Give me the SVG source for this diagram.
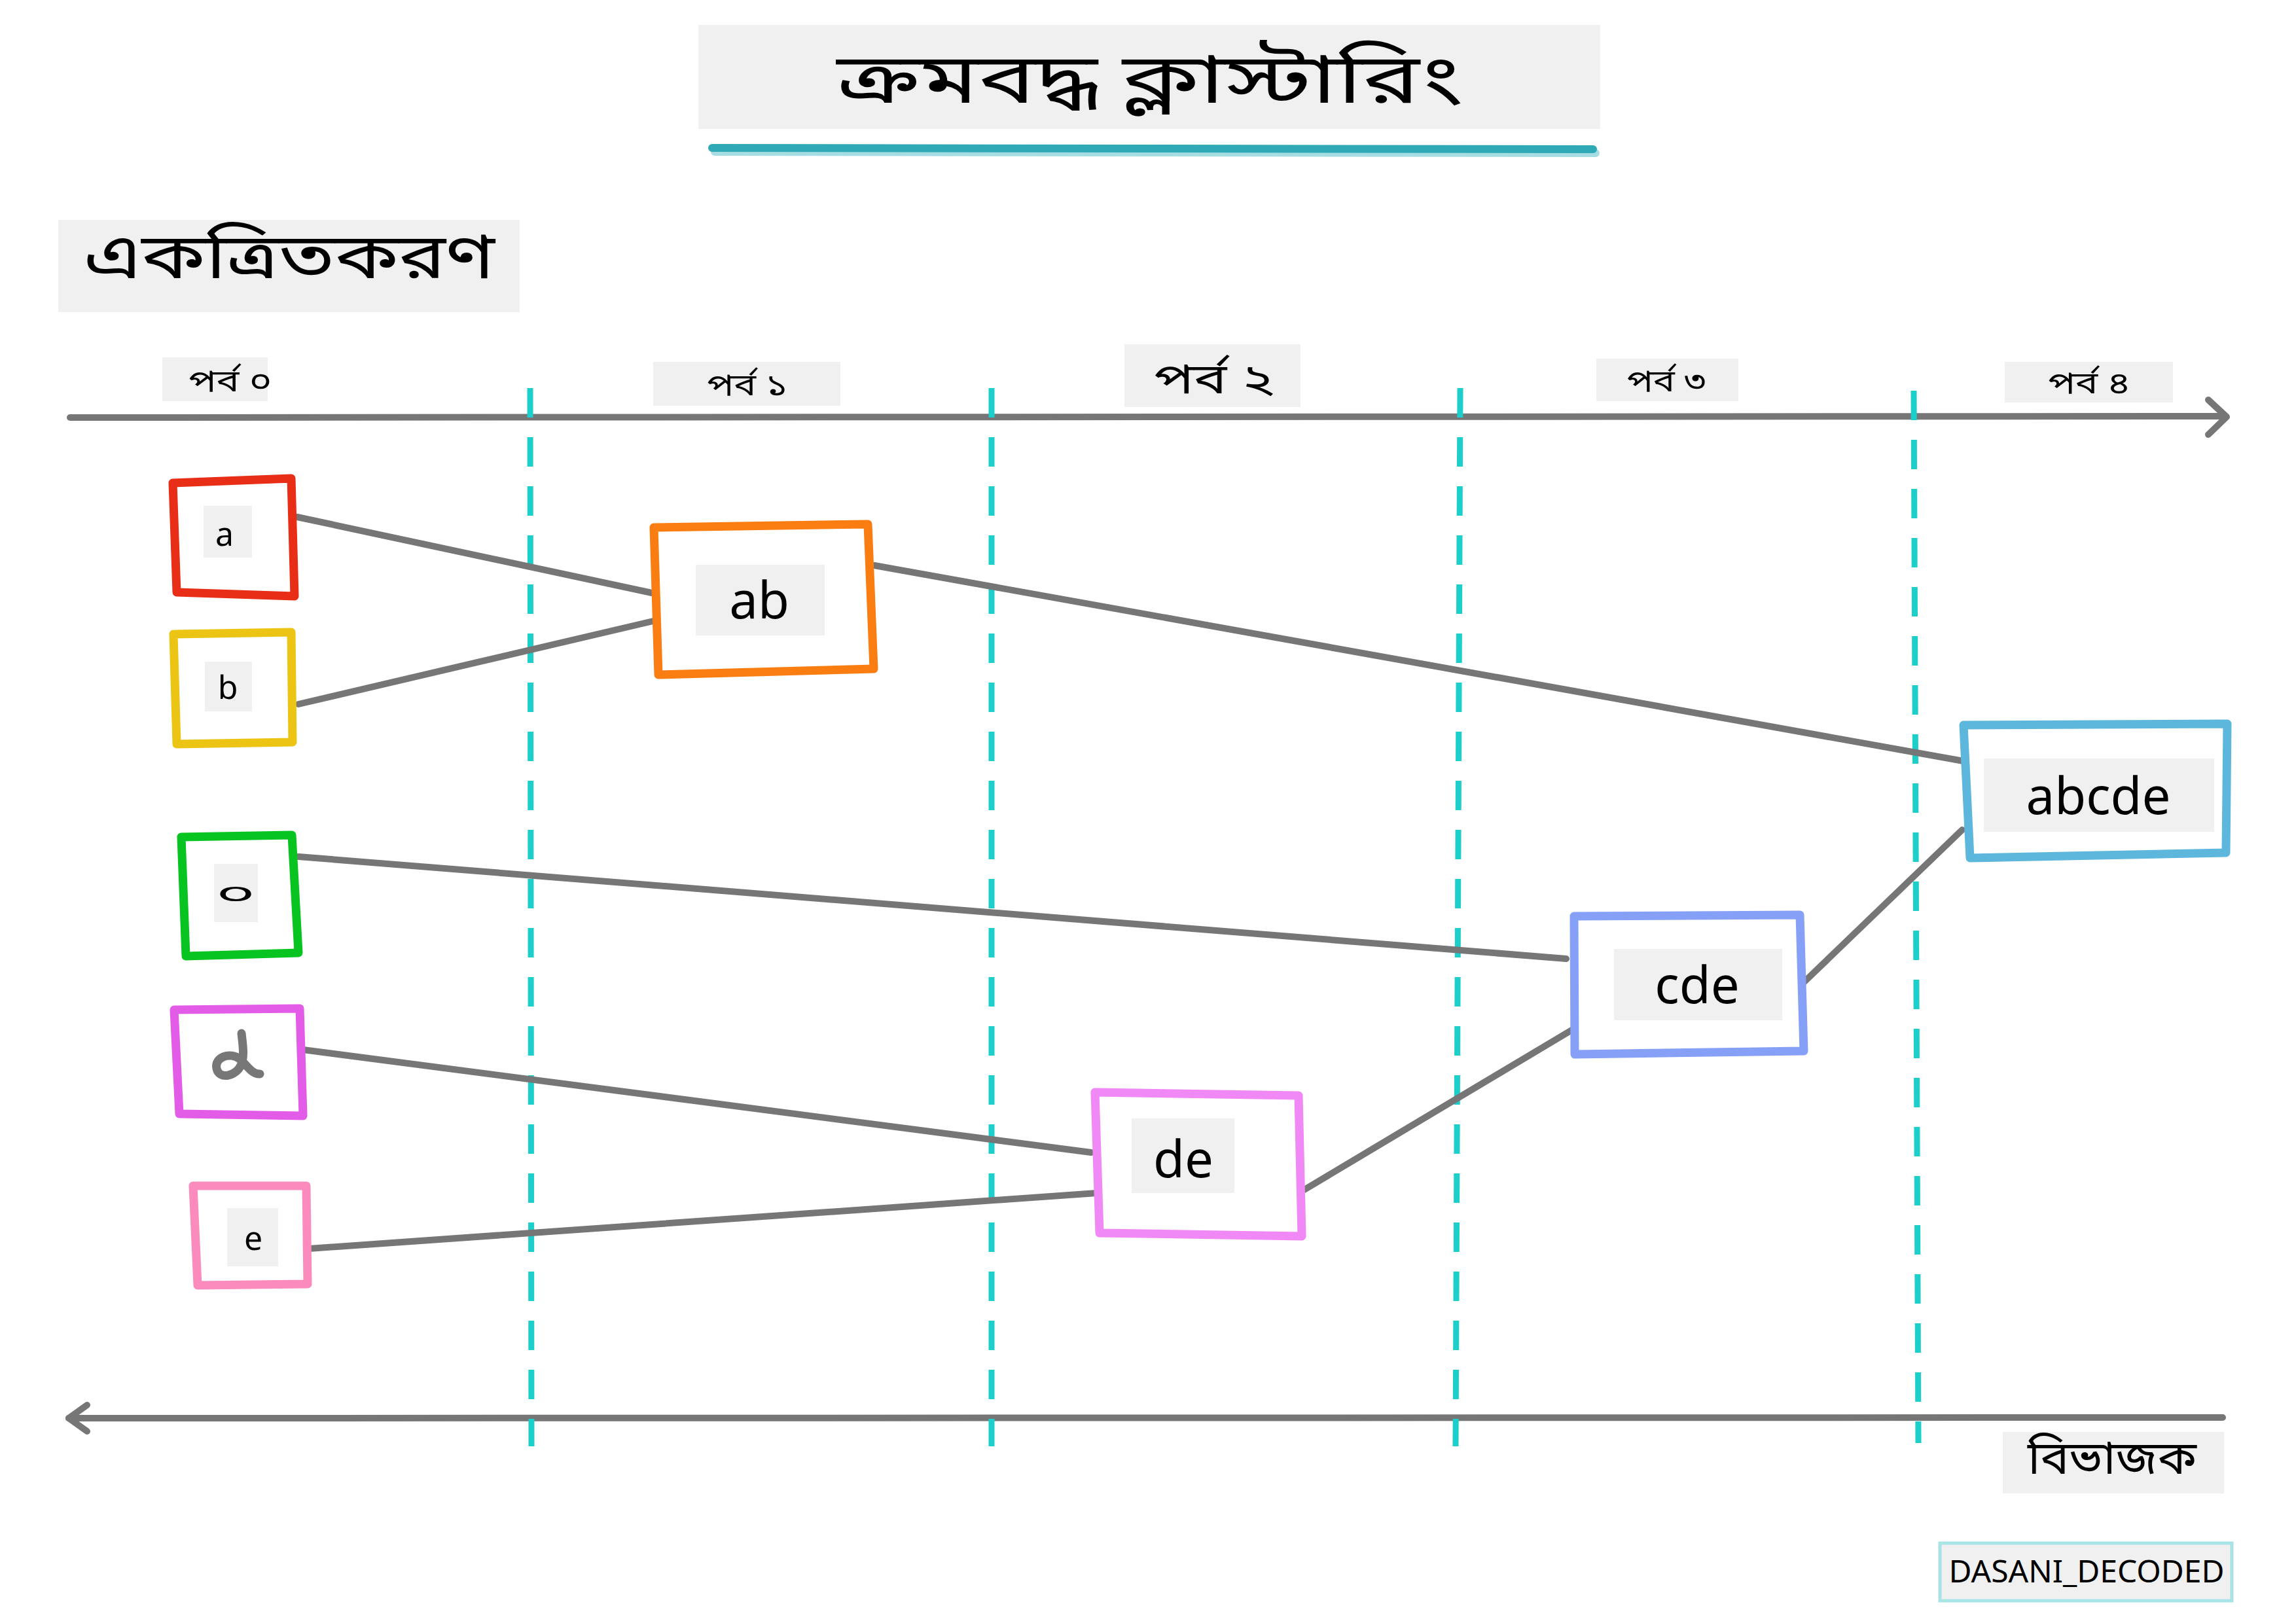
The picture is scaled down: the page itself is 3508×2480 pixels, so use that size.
<svg xmlns="http://www.w3.org/2000/svg" width="3508" height="2480" viewBox="0 0 3508 2480">
<defs>
<style>
.bg{fill:#f0f0f0;}
.bn{font-family:"Noto Sans Bengali","Noto Sans","Lohit Bengali",sans-serif;fill:#000;text-anchor:middle;}
.lt{font-family:"Noto Sans","Open Sans",sans-serif;fill:#000;text-anchor:middle;}
.box{fill:#fff;stroke-width:13;stroke-linejoin:round;stroke-linecap:round;}
.con{stroke:#767676;stroke-width:10;stroke-linecap:round;fill:none;}
.axis{stroke:#767676;stroke-width:10;stroke-linecap:round;stroke-linejoin:round;fill:none;}
.div{stroke:#1ccfca;stroke-width:9;stroke-dasharray:45 30;stroke-linecap:butt;fill:none;}
</style>
</defs>
<rect width="3508" height="2480" fill="#fff"/>

<g id="title">
<rect class="bg" x="1067" y="38" width="1378" height="159"/>
<text class="bn" x="1756" y="157" font-size="106" textLength="955" lengthAdjust="spacingAndGlyphs">ক্রমবদ্ধ ক্লাস্টারিং</text>
<line x1="1092" y1="232" x2="2438" y2="234" stroke="#a6dde2" stroke-width="12" stroke-linecap="round"/>
<line x1="1088" y1="226" x2="2434" y2="228" stroke="#2ea9b5" stroke-width="12" stroke-linecap="round"/>
</g>

<g id="agg-label">
<rect class="bg" x="89" y="336" width="705" height="141"/>
<text class="bn" x="442" y="425" font-size="96" textLength="628" lengthAdjust="spacingAndGlyphs">একত্রিতকরণ</text>
</g>

<g id="axes">
<path class="axis" d="M107,638 L3400,636"/>
<path class="axis" d="M3374,611 L3402,637 L3374,664"/>
<path class="axis" d="M3396,2166 L105,2167"/>
<path class="axis" d="M133,2147 L105,2167 L133,2187"/>
</g>

<g id="dividers">
<line class="div" x1="810" y1="593" x2="812" y2="2210"/>
<line class="div" x1="1515" y1="593" x2="1515" y2="2210"/>
<line class="div" x1="2231" y1="593" x2="2224" y2="2210"/>
<line class="div" x1="2924" y1="597" x2="2931" y2="2205"/>
</g>

<g id="phase0"><rect class="bg" x="248" y="546" width="161" height="67"/><text class="bn" x="352" y="598" font-size="46" textLength="127" lengthAdjust="spacingAndGlyphs">পর্ব ০</text></g>
<g id="phase1"><rect class="bg" x="998" y="553" width="286" height="67"/><text class="bn" x="1142" y="604" font-size="46" textLength="123" lengthAdjust="spacingAndGlyphs">পর্ব ১</text></g>
<g id="phase2"><rect class="bg" x="1718" y="526" width="269" height="96"/><text class="bn" x="1855" y="601" font-size="64" textLength="183" lengthAdjust="spacingAndGlyphs">পর্ব ২</text></g>
<g id="phase3"><rect class="bg" x="2439" y="548" width="217" height="65"/><text class="bn" x="2546" y="598" font-size="46" textLength="120" lengthAdjust="spacingAndGlyphs">পর্ব ৩</text></g>
<g id="phase4"><rect class="bg" x="3063" y="553" width="257" height="62"/><text class="bn" x="3192" y="601" font-size="46" textLength="125" lengthAdjust="spacingAndGlyphs">পর্ব ৪</text></g>

<g id="connectors">
<line class="con" x1="454" y1="790" x2="996" y2="906"/>
<line class="con" x1="456" y1="1076" x2="998" y2="949"/>
<line class="con" x1="1336" y1="864" x2="3000" y2="1163"/>
<line class="con" x1="456" y1="1309" x2="2393" y2="1465"/>
<line class="con" x1="2756" y1="1501" x2="2998" y2="1268"/>
<line class="con" x1="463" y1="1604" x2="1667" y2="1761"/>
<line class="con" x1="472" y1="1908" x2="1676" y2="1823"/>
<line class="con" x1="1991" y1="1819" x2="2403" y2="1573"/>
</g>

<g id="node-a">
<path class="box" stroke="#e82e17" d="M264,738 L445,731 L450,911 L270,905 Z"/>
<rect class="bg" x="311" y="773" width="74" height="79"/>
<text class="lt" x="343" y="834" font-size="50">a</text>
</g>
<g id="node-b">
<path class="box" stroke="#ecc514" d="M265,969 L445,966 L447,1134 L270,1137 Z"/>
<rect class="bg" x="313" y="1011" width="72" height="76"/>
<text class="lt" x="348" y="1068" font-size="50">b</text>
</g>
<g id="node-c">
<path class="box" stroke="#08c420" d="M277,1279 L446,1276 L456,1456 L284,1461 Z"/>
<rect class="bg" x="327" y="1320" width="67" height="89"/>
<text class="bn" x="0" y="0" font-size="50" transform="translate(360,1365) scale(2.1,0.9)" dy="17">০</text>
</g>
<g id="node-d">
<path class="box" stroke="#e35ce8" d="M266,1543 L458,1541 L463,1705 L274,1702 Z"/>
<path d="M369,1579 C371,1597 374,1615 368,1628 C360,1645 335,1650 331,1633 C327,1615 352,1607 366,1618 C378,1628 385,1642 397,1641" fill="none" stroke="#777" stroke-width="13" stroke-linecap="round" stroke-linejoin="round"/>
</g>
<g id="node-e">
<path class="box" stroke="#fc8bbd" d="M295,1812 L468,1812 L470,1962 L302,1964 Z"/>
<rect class="bg" x="347" y="1846" width="78" height="89"/>
<text class="lt" x="387" y="1910" font-size="50">e</text>
</g>

<g id="node-ab">
<path class="box" stroke="#fa7d12" d="M999,806 L1326,801 L1335,1022 L1006,1031 Z"/>
<rect class="bg" x="1063" y="863" width="197" height="108"/>
<text class="lt" x="1160" y="945" font-size="78">ab</text>
</g>
<g id="node-de">
<path class="box" stroke="#f088f5" d="M1673,1669 L1984,1674 L1989,1889 L1680,1884 Z"/>
<rect class="bg" x="1729" y="1709" width="157" height="114"/>
<text class="lt" x="1808" y="1799" font-size="78">de</text>
</g>
<g id="node-cde">
<path class="box" stroke="#86a0f7" d="M2405,1400 L2750,1398 L2756,1606 L2406,1611 Z"/>
<rect class="bg" x="2466" y="1450" width="257" height="109"/>
<text class="lt" x="2593" y="1533" font-size="78">cde</text>
</g>
<g id="node-abcde">
<path class="box" stroke="#5db7dd" d="M3000,1108 L3403,1106 L3401,1303 L3010,1311 Z"/>
<rect class="bg" x="3031" y="1159" width="352" height="112"/>
<text class="lt" x="3206" y="1244" font-size="78">abcde</text>
</g>

<g id="divisive-label">
<rect class="bg" x="3060" y="2188" width="338" height="94"/>
<text class="bn" x="3227" y="2252" font-size="70" textLength="258" lengthAdjust="spacingAndGlyphs">বিভাজক</text>
</g>

<g id="credit">
<rect x="2964" y="2358" width="446" height="88" fill="#f0f0f0" stroke="#a8e3e6" stroke-width="5"/>
<text class="lt" x="3188" y="2418" font-size="48">DASANI_DECODED</text>
</g>
</svg>
